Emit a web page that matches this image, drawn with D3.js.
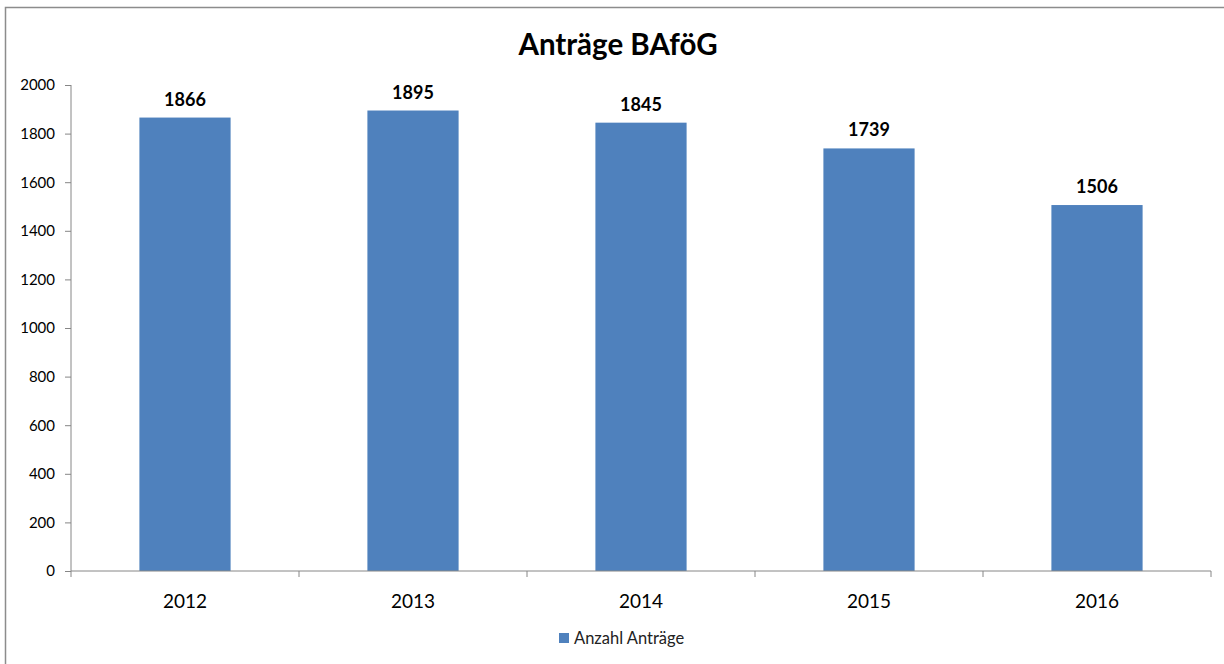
<html>
<head>
<script src="https://d3js.org/d3.v7.min.js"></script>
<style>
  body { margin: 0; background: #fff; }
  svg { display: block; }
</style>
</head>
<body>
<svg id="chart" width="1224" height="664"></svg>
<script>
// chart data
const years = ['2012', '2013', '2014', '2015', '2016'];
const antraege = [1866, 1895, 1845, 1739, 1506];
const yTicks = [0, 200, 400, 600, 800, 1000, 1200, 1400, 1600, 1800, 2000];
const titleText = 'Anträge BAföG';
const seriesName = 'Anzahl Anträge';

const svg = d3.select('#chart');
const font = 'Lato, "Noto Sans", sans-serif';
const barColor = '#4f81bd';
const axisColor = '#868686';

// outer frame
svg.append('rect')
    .attr('x', 5.5).attr('y', 7.5)
    .attr('width', 1240).attr('height', 680)
    .attr('fill', 'none')
    .attr('stroke', '#8c8c8c')
    .attr('stroke-width', 1.5);

const plotLeft = 71, plotRight = 1211, plotTop = 85, plotBottom = 571;

const x = d3.scaleBand()
    .domain(years)
    .range([plotLeft, plotRight])
    .paddingInner(0.6)
    .paddingOuter(0.3);

const y = d3.scaleLinear()
    .domain([0, 2000])
    .range([plotBottom, plotTop]);

// title
svg.append('text')
    .attr('x', 618).attr('y', 55)
    .attr('text-anchor', 'middle')
    .style('font-family', font)
    .style('font-weight', 'bold')
    .style('font-size', '29.5px')
    .text(titleText);

// bars
svg.append('g').selectAll('rect')
    .data(antraege)
    .enter()
    .append('rect')
    .attr('x', (d, i) => x(years[i]))
    .attr('y', d => y(d))
    .attr('width', x.bandwidth())
    .attr('height', d => y(0) - y(d))
    .attr('fill', barColor);

// value labels
svg.append('g').selectAll('text')
    .data(antraege)
    .enter()
    .append('text')
    .attr('x', (d, i) => x(years[i]) + x.bandwidth() / 2)
    .attr('y', d => y(d) - 12)
    .attr('text-anchor', 'middle')
    .style('font-family', font)
    .style('font-weight', 'bold')
    .style('font-size', '18px')
    .text(d => d);

// y axis
const yAxis = svg.append('g')
    .attr('transform', 'translate(' + plotLeft + ',0)')
    .call(d3.axisLeft(y).tickValues(yTicks).tickSize(6).tickPadding(10).tickFormat(d3.format('d')));
yAxis.selectAll('path, line').attr('stroke', axisColor);
yAxis.selectAll('text')
    .style('font-family', font)
    .style('font-size', '15px')
    .attr('fill', '#000');
yAxis.select('.domain').attr('d', 'M0,' + plotTop + 'V' + plotBottom);

// x axis with ticks at category borders
const xg = svg.append('g')
    .attr('transform', 'translate(0,' + plotBottom + ')');
xg.append('line')
    .attr('x1', plotLeft).attr('x2', plotRight)
    .attr('stroke', axisColor);
const step = (plotRight - plotLeft) / years.length;
xg.selectAll('line.tk')
    .data(d3.range(years.length + 1))
    .enter()
    .append('line')
    .attr('class', 'tk')
    .attr('x1', i => plotLeft + i * step).attr('x2', i => plotLeft + i * step)
    .attr('y1', 0).attr('y2', 6)
    .attr('stroke', axisColor);
xg.selectAll('text')
    .data(years)
    .enter()
    .append('text')
    .attr('x', d => x(d) + x.bandwidth() / 2)
    .attr('y', 37)
    .attr('text-anchor', 'middle')
    .style('font-family', font)
    .style('font-size', '19px')
    .text(d => d);

// legend
const lg = svg.append('g').attr('transform', 'translate(559,633)');
lg.append('rect').attr('width', 10).attr('height', 10).attr('fill', barColor);
lg.append('text')
    .attr('x', 15).attr('y', 11)
    .style('font-family', font)
    .style('font-size', '16.5px')
    .attr('fill', '#222')
    .text(seriesName);
</script>
</body>
</html>
